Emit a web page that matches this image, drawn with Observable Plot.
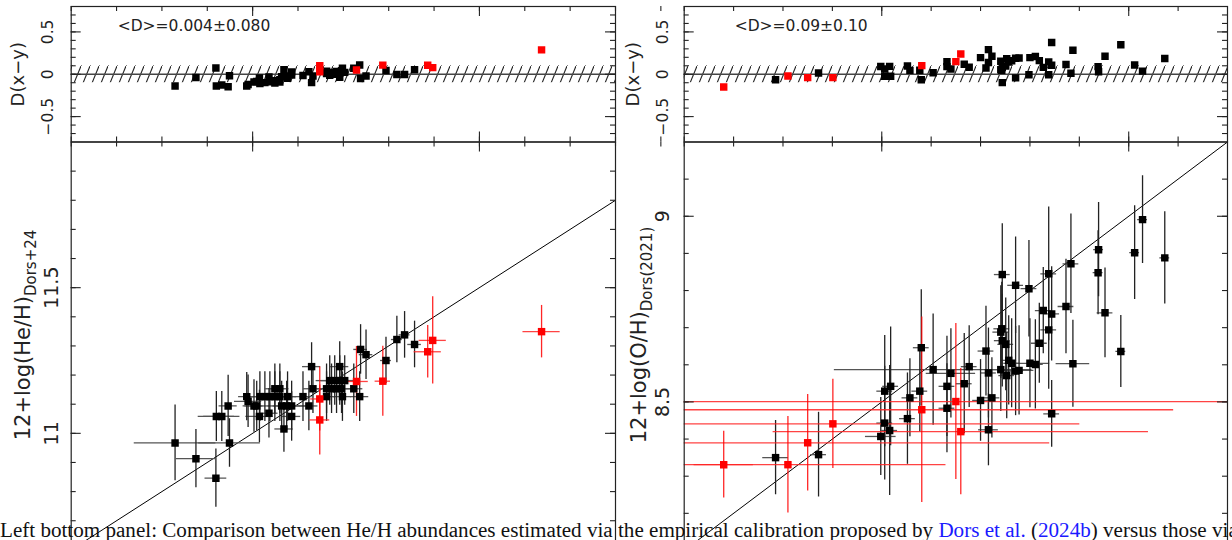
<!DOCTYPE html>
<html><head><meta charset="utf-8">
<script src="https://cdn.jsdelivr.net/npm/d3@7"></script>
<script src="https://cdn.jsdelivr.net/npm/@observablehq/plot@0.6"></script>
<style>
html,body{margin:0;padding:0;background:#fff;width:1232px;height:540px;overflow:hidden;position:relative}
.panel{position:absolute}
.panel svg{overflow:visible}
#caption{position:absolute;left:0;top:520px;font-family:"Liberation Serif","Times New Roman",serif;font-size:21.1px;line-height:21px;white-space:nowrap;color:#111;z-index:10}
#caption .ref{color:#1a1aff}
</style></head><body>
<svg width="0" height="0" style="position:absolute"><defs>
<pattern id="hatch" patternUnits="userSpaceOnUse" width="9" height="22"><path d="M-1,24.44 L10,-2.44" stroke="#222" stroke-width="1.1" fill="none"/></pattern>
</defs></svg>
<div id="tl" class="panel" style="left:0;top:0"></div>
<div id="bl" class="panel" style="left:0;top:140px"></div>
<div id="tr" class="panel" style="left:616px;top:0"></div>
<div id="br" class="panel" style="left:616px;top:140px"></div>
<div id="caption">Left bottom panel: Comparison between He/H abundances estimated via the empirical calibration proposed by <span class="ref">Dors et al.</span> (<span class="ref">2024b</span>) versus those via</div>
<script>
// ---------------- DATA: He/H (left) ----------------
const heX = [10.829,10.875,10.919,10.949,10.920,10.932,10.946,10.987,10.990,11.003,11.009,11.015,11.016,11.027,11.038,11.049,11.060,11.049,11.060,11.036,11.069,11.064,11.075,11.086,11.077,11.086,11.111,11.124,11.130,11.133,11.170,11.181,11.192,11.203,11.163,11.174,11.185,11.196,11.163,11.198,11.236,11.192,11.223,11.238,11.250,11.294,11.318,11.335,11.357,
  11.148,11.148,11.229,11.287,11.386,11.397,11.637];
const heY = [10.967,10.913,10.846,10.967,11.058,11.058,11.094,11.126,11.110,11.094,11.094,11.058,11.126,11.126,11.126,11.126,11.126,11.153,11.153,11.069,11.015,11.094,11.094,11.094,11.126,11.058,11.126,11.094,11.229,11.153,11.181,11.181,11.181,11.181,11.153,11.153,11.153,11.153,11.126,11.126,11.126,11.229,11.153,11.288,11.270,11.250,11.322,11.338,11.305,
  11.118,11.046,11.178,11.179,11.280,11.319,11.349];
const heXErr = [0.090,0.043,0.024,0.068,0.040,0.040,0.020,0.018,0.030,0.020,0.030,0.030,0.030,0.030,0.030,0.030,0.030,0.020,0.020,0.020,0.020,0.030,0.030,0.030,0.020,0.020,0.020,0.020,0.020,0.020,0.030,0.030,0.030,0.030,0.020,0.020,0.020,0.020,0.020,0.020,0.020,0.020,0.020,0.015,0.015,0.012,0.012,0.012,0.015,
  0.020,0.022,0.026,0.017,0.030,0.030,0.041];
const heYErr = [0.130,0.100,0.100,0.083,0.086,0.086,0.105,0.083,0.090,0.090,0.085,0.090,0.085,0.085,0.085,0.085,0.085,0.085,0.085,0.085,0.080,0.085,0.085,0.085,0.085,0.085,0.085,0.085,0.082,0.085,0.085,0.085,0.085,0.085,0.085,0.085,0.085,0.085,0.085,0.085,0.085,0.085,0.085,0.085,0.085,0.080,0.080,0.080,0.080,
  0.110,0.120,0.120,0.120,0.090,0.150,0.090];
const heRed = [0,0,0,0,0,0,0,0,0,0,0,0,0,0,0,0,0,0,0,0,0,0,0,0,0,0,0,0,0,0,0,0,0,0,0,0,0,0,0,0,0,0,0,0,0,0,0,0,0,
  1,1,1,1,1,1,1];

// ---------------- DATA: O/H (right) ----------------
const ohX = [8.285,8.372,8.498,8.506,8.516,8.506,8.518,8.552,8.557,8.577,8.580,8.604,8.632,8.632,8.640,8.667,8.677,8.700,8.711,8.716,8.716,8.723,8.741,8.741,8.743,8.744,8.744,8.751,8.753,8.757,8.763,8.771,8.771,8.778,8.798,8.800,8.811,8.819,8.827,8.838,8.838,8.844,8.844,8.873,8.883,8.887,8.939,8.938,8.952,8.984,9.012,9.028,9.073,
  8.180,8.310,8.350,8.401,8.581,8.650,8.660];
const ohY = [8.350,8.358,8.407,8.443,8.423,8.529,8.542,8.455,8.511,8.529,8.646,8.587,8.542,8.483,8.577,8.549,8.595,8.504,8.637,8.578,8.425,8.511,8.587,8.688,8.697,8.665,8.843,8.655,8.571,8.612,8.604,8.814,8.583,8.585,8.805,8.604,8.601,8.658,8.746,8.845,8.694,8.737,8.468,8.757,8.872,8.603,8.910,8.848,8.740,8.636,8.902,8.991,8.888,
  8.331,8.331,8.390,8.441,8.479,8.501,8.420];
const ohXErr = [0.026,0.016,0.031,0.016,0.016,0.016,0.016,0.016,0.016,0.016,0.016,0.200,0.016,0.016,0.050,0.016,0.016,0.016,0.016,0.016,0.020,0.016,0.016,0.016,0.016,0.016,0.016,0.016,0.016,0.016,0.016,0.016,0.016,0.030,0.016,0.040,0.016,0.016,0.016,0.016,0.016,0.016,0.016,0.016,0.016,0.034,0.010,0.010,0.016,0.010,0.010,0.010,0.010,
  0.060,0.320,0.490,0.500,0.510,0.600,0.380];
const ohYErr = [0.100,0.114,0.105,0.153,0.175,0.150,0.160,0.123,0.105,0.110,0.156,0.150,0.135,0.120,0.120,0.135,0.110,0.110,0.121,0.121,0.097,0.108,0.113,0.125,0.125,0.125,0.137,0.125,0.116,0.120,0.120,0.130,0.120,0.120,0.130,0.120,0.120,0.108,0.116,0.180,0.160,0.127,0.090,0.127,0.134,0.117,0.127,0.113,0.121,0.097,0.126,0.118,0.124,
  0.090,0.130,0.130,0.120,0.250,0.210,0.170];
const ohRed = [0,0,0,0,0,0,0,0,0,0,0,0,0,0,0,0,0,0,0,0,0,0,0,0,0,0,0,0,0,0,0,0,0,0,0,0,0,0,0,0,0,0,0,0,0,0,0,0,0,0,0,0,0,
  1,1,1,1,1,1,1];

// ---------------- axes / annotations ----------------
const heXDomain = [10.6, 11.8];
const heYDomain = [10.5, 12.0];
const heMinorTicks = [10.6,10.7,10.8,10.9,11.0,11.1,11.2,11.3,11.4,11.5,11.6,11.7,11.8,11.9];
const heMajorTicks = [11.0, 11.5];
const heMajorLabels = ["11", "11.5"];
const ohXDomain = [8.1, 9.2];
const ohYDomain = [8.0, 9.2];
const ohMinorTicks = [8.1,8.2,8.3,8.4,8.5,8.6,8.7,8.8,8.9,9.0,9.1];
const ohMajorTicks = [8.5, 9.0];
const ohMajorLabels = ["8.5", "9"];
const dDomain = [-0.8, 0.8];
const dMinorTicks = [-0.7,-0.6,-0.5,-0.4,-0.3,-0.2,-0.1,0,0.1,0.2,0.3,0.4,0.5,0.6,0.7];
const dMajorTicks = [-0.5, 0, 0.5];
const dMajorLabels = ["\u22120.5", "0", "0.5"];
const dBand = [-0.1, 0.1];
const heMeanLabel = "<D>=0.004\u00b10.080";
const ohMeanLabel = "<D>=0.09\u00b10.10";

const FONT = "DejaVu Sans, sans-serif";

function rows(X, Y, XE, YE, R) {
  return X.map((x, i) => ({x, y: Y[i], xe: XE[i], ye: YE[i], red: R[i] === 1, d: x - Y[i]}));
}

function tickMarks(xMinor, xMajor, yMinor, yMajor, innerW, innerH) {
  const mk = [];
  const minorL = 5, majorL = 10;
  for (const [t, L] of [[xMinor, minorL], [xMajor, majorL]]) {
    mk.push(Plot.ruleX(t, {x: d => d, insetBottom: innerH - L, stroke: "#222", strokeWidth: 1.1}));
    mk.push(Plot.ruleX(t, {x: d => d, insetTop: innerH - L, stroke: "#222", strokeWidth: 1.1}));
  }
  for (const [t, L] of [[yMinor, minorL], [yMajor, majorL]]) {
    mk.push(Plot.ruleY(t, {y: d => d, insetRight: innerW - L, stroke: "#222", strokeWidth: 1.1}));
    mk.push(Plot.ruleY(t, {y: d => d, insetLeft: innerW - L, stroke: "#222", strokeWidth: 1.1}));
  }
  return mk;
}

function topPanel(el, data, xDom, xMinor, xMajor, ML, MR, meanLabel, labDx, titleDx, meanDx) {
  const W = 616, H = 143, MT = 6, MB = 1.5;
  const innerW = W - ML - MR, innerH = H - MT - MB;
  const band = [{x1: xDom[0], x2: xDom[1], y1: dBand[0], y2: dBand[1]}];
  const blk = data.filter(d => !d.red), red = data.filter(d => d.red);
  const p = Plot.plot({
    width: W, height: H, marginLeft: ML, marginRight: MR, marginTop: MT, marginBottom: MB,
    x: {domain: xDom, axis: null}, y: {domain: dDomain, axis: null},
    style: {background: "transparent", overflow: "visible"},
    marks: [
      Plot.rect(band, {x1: "x1", x2: "x2", y1: "y1", y2: "y2", fill: "url(#hatch)"}),
      Plot.ruleY([0], {stroke: "#444", strokeWidth: 1.4}),
      Plot.dot(blk, {x: "x", y: "d", symbol: "square", r: 4.2, fill: "#000", clip: true}),
      Plot.dot(red, {x: "x", y: "d", symbol: "square", r: 4.2, fill: "#f00", clip: true}),
      ...tickMarks(xMinor, xMajor, dMinorTicks, dMajorTicks, innerW, innerH),
      Plot.frame({stroke: "#222", strokeWidth: 1.2}),
      Plot.text(dMajorTicks, {y: d => d, text: (d, i) => dMajorLabels[i], frameAnchor: "left", dx: labDx, rotate: -90, textAnchor: "middle", lineAnchor: "middle", fontSize: 15.5, fontFamily: FONT, fill: "#222"}),
      Plot.text(["D(x\u2212y)"], {frameAnchor: "left", dx: titleDx, rotate: -90, textAnchor: "middle", lineAnchor: "middle", fontSize: 18, fontFamily: FONT, fill: "#222"}),
      Plot.text([meanLabel], {frameAnchor: "top-left", dx: meanDx, dy: 20, textAnchor: "start", lineAnchor: "middle", fontSize: 15.5, fontFamily: FONT, fill: "#222"})
    ]
  });
  document.getElementById(el).appendChild(p);
}

function bottomPanel(el, data, xDom, yDom, xMinor, xMajor, yMinor, yMajor, yLabels, ML, MR, innerH, labDx, titleMain, titleSub) {
  const W = 616, MT = 1.5, MB = 2;
  const H = MT + innerH + MB;
  const innerW = W - ML - MR;
  const diag = [{x1: yDom[0], y1: yDom[0], x2: xDom[1], y2: xDom[1]}];
  const blk = data.filter(d => !d.red), red = data.filter(d => d.red);
  const p = Plot.plot({
    width: W, height: H, marginLeft: ML, marginRight: MR, marginTop: MT, marginBottom: MB,
    x: {domain: xDom, axis: null}, y: {domain: yDom, axis: null},
    style: {background: "transparent", overflow: "visible"},
    marks: [
      Plot.link(diag, {x1: "x1", y1: "y1", x2: "x2", y2: "y2", stroke: "#000", strokeWidth: 1, clip: true}),
      Plot.ruleY(blk, {y: "y", x1: d => d.x - d.xe, x2: d => d.x + d.xe, stroke: "#555", strokeWidth: 1.3, clip: true}),
      Plot.ruleX(blk, {x: "x", y1: d => d.y - d.ye, y2: d => d.y + d.ye, stroke: "#222", strokeWidth: 1.3, clip: true}),
      Plot.ruleY(red, {y: "y", x1: d => d.x - d.xe, x2: d => d.x + d.xe, stroke: "#f22", strokeOpacity: 0.85, strokeWidth: 1.3, clip: true}),
      Plot.ruleX(red, {x: "x", y1: d => d.y - d.ye, y2: d => d.y + d.ye, stroke: "#f00", strokeOpacity: 0.85, strokeWidth: 1.3, clip: true}),
      Plot.dot(blk, {x: "x", y: "y", symbol: "square", r: 4.2, fill: "#000", clip: true}),
      Plot.dot(red, {x: "x", y: "y", symbol: "square", r: 4.2, fill: "#f00", clip: true}),
      ...tickMarks(xMinor, xMajor, yMinor, yMajor, innerW, innerH),
      Plot.frame({stroke: "#222", strokeWidth: 1.2}),
      Plot.text(yMajor, {y: d => d, text: (d, i) => yLabels[i], frameAnchor: "left", dx: labDx, rotate: -90, textAnchor: "middle", lineAnchor: "middle", fontSize: 19, fontFamily: FONT, fill: "#222"})
    ]
  });
  const svg = d3.select(p);
  const t = svg.append("text")
    .attr("transform", "translate(30,195) rotate(-90)")
    .attr("text-anchor", "middle")
    .attr("font-family", FONT).attr("font-size", 21).attr("fill", "#222");
  t.append("tspan").text(titleMain);
  t.append("tspan").attr("font-size", 15).attr("dy", 6).text(titleSub);
  document.getElementById(el).appendChild(p);
}

const heData = rows(heX, heY, heXErr, heYErr, heRed);
const ohData = rows(ohX, ohY, ohXErr, ohYErr, ohRed);

topPanel("tl", heData, heXDomain, heMinorTicks, heMajorTicks, 70.7, 1, heMeanLabel, -22.7, -52.7, 46.5);
topPanel("tr", ohData, ohXDomain, ohMinorTicks, ohMajorTicks, 67.7, 5, ohMeanLabel, -20.7, -50.7, 50.5);
bottomPanel("bl", heData, heXDomain, heYDomain, heMinorTicks, heMajorTicks, heMinorTicks, heMajorTicks, heMajorLabels, 70.7, 1, 437, -19, "12+log(He/H)", "Dors+24");
bottomPanel("br", ohData, ohXDomain, ohYDomain, ohMinorTicks, ohMajorTicks, ohMinorTicks, ohMajorTicks, ohMajorLabels, 67.7, 5, 445.6, -21, "12+log(O/H)", "Dors(2021)");
</script>
</body></html>
